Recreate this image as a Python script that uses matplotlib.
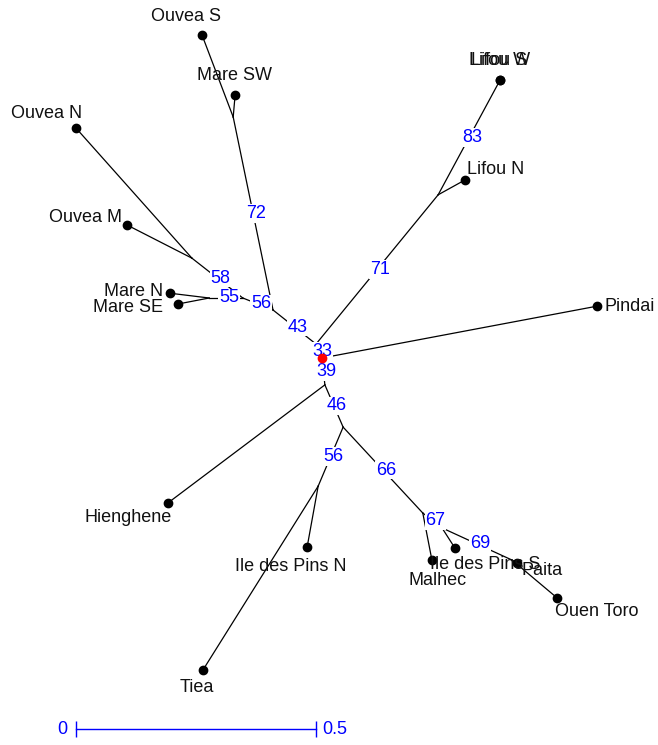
import matplotlib
matplotlib.use("Agg")
import matplotlib.pyplot as plt

# ---- tree data (coordinates in branch-length units, root at 0,0) ----
node_names = ["root", "X", "L1", "L2", "P", "Q", "R", "S", "T",
              "Y", "Z", "W", "V", "U", "T2"]
node_x = [0.000, -0.0125, 0.242, 0.371, -0.102, -0.185, -0.165, -0.235, -0.271,
          0.006, 0.044, -0.008, 0.210, 0.250, 0.396]
node_y = [0.000, 0.029, 0.340, 0.579, 0.100, 0.502, 0.125, 0.125, 0.208,
          -0.056, -0.144, -0.267, -0.323, -0.354, -0.421]

# internal edges: (parent, child, bootstrap)
int_edges = [("root", "X", 33), ("X", "L1", 71), ("L1", "L2", 83),
             ("X", "P", 43), ("P", "Q", 72), ("P", "R", 56),
             ("R", "S", 55), ("R", "T", 58), ("root", "Y", 39),
             ("Y", "Z", 46), ("Z", "W", 56), ("Z", "V", 66),
             ("V", "U", 67), ("U", "T2", 69)]

tip_names = ["Lifou S", "Lifou W", "Lifou N", "Pindai", "Ouvea S", "Mare SW",
             "Ouvea N", "Ouvea M", "Mare N", "Mare SE", "Hienghene",
             "Ile des Pins N", "Tiea", "Malhec", "Ile des Pins S", "Paita",
             "Ouen Toro"]
tip_parent = ["L2", "L2", "L1", "root", "Q", "Q", "T", "T", "S", "S", "Y",
              "W", "W", "V", "U", "T2", "T2"]
tip_x = [0.371, 0.371, 0.298, 0.573, -0.250, -0.181, -0.5125, -0.406, -0.317,
         -0.300, -0.321, -0.031, -0.248, 0.229, 0.277, 0.406, 0.490]
tip_y = [0.579, 0.579, 0.371, 0.108, 0.673, 0.548, 0.479, 0.277, 0.135,
         0.1125, -0.302, -0.394, -0.650, -0.421, -0.396, -0.427, -0.500]

scale_len = 0.5

# ---- label placement (pixel offsets from tip dot) ----
label_place = {
    "Lifou S": ("center", -1, -20), "Lifou W": ("center", -1, -20),
    "Lifou N": ("left", 2, -10), "Pindai": ("left", 7, 0),
    "Ouvea S": ("center", -16, -18), "Mare SW": ("center", -1, -19),
    "Ouvea N": ("right", 6, -15), "Ouvea M": ("right", -5, -8),
    "Mare N": ("right", -7, -2), "Mare SE": ("right", -15, 3),
    "Hienghene": ("right", 4, 15), "Ile des Pins N": ("center", -16, 19),
    "Tiea": ("center", -6, 18), "Malhec": ("center", 6, 20),
    "Ile des Pins S": ("center", 30, 16), "Paita": ("left", 5, 8),
    "Ouen Toro": ("left", -2, 13),
}

W, H = 658, 745
fig = plt.figure(figsize=(W / 100, H / 100), dpi=100)
ax = fig.add_axes([0, 0, 1, 1])
ppu = 480.0  # pixels per unit
ax.set_xlim(-322 / ppu, (W - 322) / ppu)
ax.set_ylim((358 - H) / ppu, 358 / ppu)
ax.axis("off")

pos = {n: (x, y) for n, x, y in zip(node_names, node_x, node_y)}
font = "Liberation Sans"
fs = 13

for p, c, b in int_edges:
    (x0, y0), (x1, y1) = pos[p], pos[c]
    ax.plot([x0, x1], [y0, y1], color="black", lw=0.9, zorder=1)
    ax.text((x0 + x1) / 2 + 3 / ppu, (y0 + y1) / 2, str(b), color="blue",
            fontsize=fs, family=font, ha="center", va="center", zorder=3,
            bbox=dict(facecolor="white", edgecolor="none", pad=0.5))

for name, par, x, y in zip(tip_names, tip_parent, tip_x, tip_y):
    x0, y0 = pos[par]
    ax.plot([x0, x], [y0, y], color="black", lw=0.9, zorder=1)
    ax.plot(x, y, "o", color="black", ms=6, zorder=4)
    ha, dx, dy = label_place[name]
    ax.annotate(name, (x, y), xytext=(dx, -dy), textcoords="offset pixels",
                ha=ha, va="center", fontsize=fs, family=font, color="#111111",
                zorder=5)

ax.plot(0, 0, "o", color="red", ms=6, zorder=6)

# scale bar
sx0 = min(tip_x)
sy = (358 - 729) / ppu
ax.plot([sx0, sx0 + scale_len], [sy, sy], color="blue", lw=1.0)
ax.plot([sx0, sx0 + scale_len], [sy, sy], "|", color="blue", ms=11, mew=1.0)
ax.annotate("0", (sx0, sy), xytext=(-14, 0), textcoords="offset pixels",
            ha="center", va="center", color="blue", fontsize=fs, family=font)
ax.annotate(str(scale_len), (sx0 + scale_len, sy), xytext=(6, 0),
            textcoords="offset pixels", ha="left", va="center", color="blue",
            fontsize=fs, family=font)

fig.savefig("out.png", dpi=100)
